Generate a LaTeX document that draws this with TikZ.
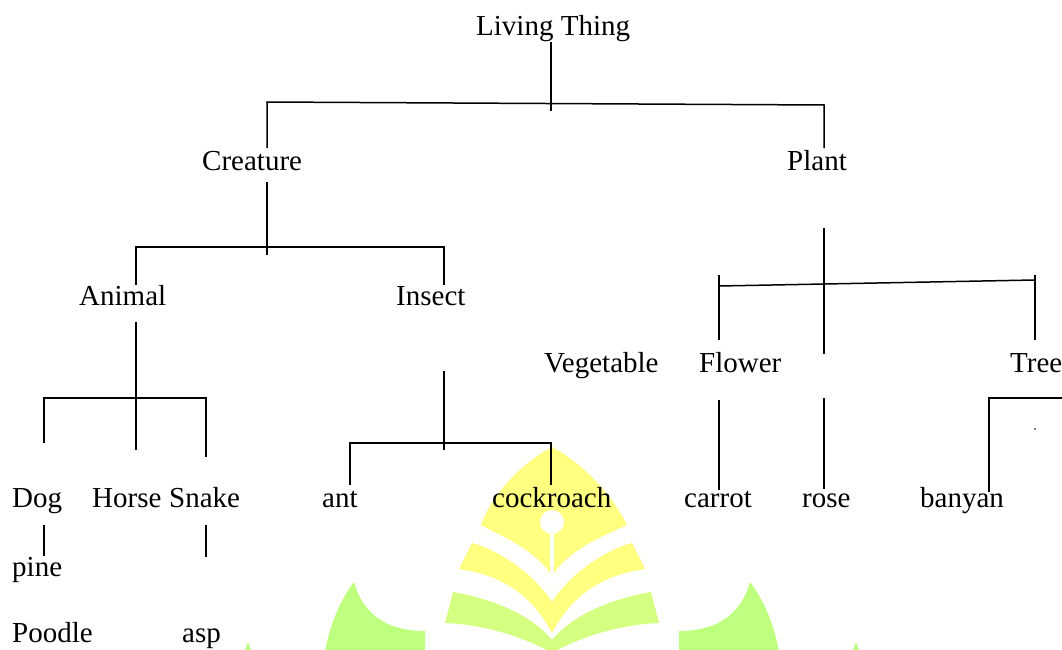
\documentclass[tikz,border=0pt]{standalone}
\usepackage{fontspec}
\setmainfont{Liberation Serif}
\usepackage{xcolor}
\definecolor{markyellow}{HTML}{FFFF80}
\definecolor{marklime}{HTML}{D5FF80}
\definecolor{markgreen}{HTML}{BFFF80}
\usetikzlibrary{calc}

\begin{document}
\begin{tikzpicture}[
    x=1pt, y=-1pt,
    every node/.style={font=\fontsize{29}{32}\selectfont},
    word/.style={anchor=base west, inner sep=0pt},
    branch/.style={draw, line width=1.5pt}
]
    \useasboundingbox (0, 0) rectangle (1062, 650);

    % Watermark
    \begin{scope}
    \clip (0, 0) rectangle (1062, 650);
    \fill[markyellow] (552, 447) .. controls (585, 465) and (612, 495) .. (627, 525)
        .. controls (600, 537) and (570, 550) .. (554, 573) -- (550, 573)
        .. controls (534, 550) and (504, 537) .. (481, 525)
        .. controls (492, 495) and (519, 465) .. (552, 447) -- cycle;
    \fill[white] (552, 522) circle[radius=12];
    \fill[white] (550, 525) rectangle (554, 573);
    \foreach \s in {1, -1} {
        \begin{scope}[shift={(552, 0)}, x=\s pt]
        \fill[markyellow] (80, 543) .. controls (62, 547) and (22, 568) .. (0, 602)
            -- (0, 633) .. controls (20, 595) and (50, 575) .. (93, 569) -- cycle;
        \fill[marklime] (99, 592) .. controls (70, 597) and (25, 610) .. (0, 640)
            -- (0, 660) -- (5, 650) .. controls (25, 640) and (60, 625) .. (107, 623) -- cycle;
        \fill[markgreen] (198, 582) .. controls (190, 610) and (170, 631) .. (127, 631)
            -- (127, 660) -- (228, 660) .. controls (225, 630) and (212, 600) .. (198, 582) -- cycle;
        \fill[markgreen] (304, 642) -- (301, 650) -- (307, 650) -- cycle;
        \end{scope}
    }
    \end{scope}

    % Words
    \node[word] (living) at (476, 36) {Living Thing};
    \node[word] (creature) at (202, 170) {Creature};
    \node[word] (plant) at (787, 170) {Plant};
    \node[word] (animal) at (79, 305) {Animal};
    \node[word] (insect) at (396, 305) {Insect};
    \node[word] (vegetable) at (544, 372) {Vegetable};
    \node[word] (flower) at (699, 372) {Flower};
    \node[word] (tree) at (1010, 372) {Tree};
    \node[word] (dog) at (12, 507) {Dog};
    \node[word] (horse) at (92, 507) {Horse};
    \node[word] (snake) at (169, 507) {Snake};
    \node[word] (ant) at (322, 507) {ant};
    \node[word] (cockroach) at (492, 507) {cockroach};
    \node[word] (carrot) at (684, 507) {carrot};
    \node[word] (rose) at (802, 507) {rose};
    \node[word] (banyan) at (920, 507) {banyan};
    \node[word] (pine) at (12, 576) {pine};
    \node[word] (poodle) at (12, 642) {Poodle};
    \node[word] (asp) at (182, 642) {asp};

    % Free line ends
    \foreach \n/\x/\y in {
        livT/551/42, livB/551/111, barA/267/102, barB/824/105, creT/267/148, plaT/824/148,
        creS/267/182, creE/267/255, barC/136/247, barD/444/247, aniT/136/285, insT/444/285,
        plaS/824/228, plaE/824/354, barE/719/286, barF/1035/280,
        flaT/719/275, floT/719/340, traT/1035/275, treT/1035/340,
        aniS/136/322, aniE/136/450, barG/44/398, barH/206/398, dogT/44/443, snaT/206/457,
        dogS/44/525, pinT/44/556, snaS/206/525, aspT/206/557,
        insS/444/371, insE/444/450, barI/350/443, barJ/551/443, antT/350/485, cocT/551/485,
        floS/719/400, carT/719/490, rosS/824/398, rosT/824/489,
        barK/989/398, barL/1062/398, banT/989/492} {
        \coordinate (\n) at (\x, \y);
    }

    % Branches
    \draw[branch] (livT) -- (livB);
    \draw[branch] (creT) -- (barA) -- (barB) -- (plaT);
    \draw[branch] (creS) -- (creE);
    \draw[branch] (aniT) -- (barC) -- (barD) -- (insT);
    \draw[branch] (plaS) -- (plaE);
    \draw[branch] (barE) -- (barF);
    \draw[branch] (flaT) -- (floT);
    \draw[branch] (traT) -- (treT);
    \draw[branch] (aniS) -- (aniE);
    \draw[branch] (dogT) -- (barG) -- (barH) -- (snaT);
    \draw[branch] (dogS) -- (pinT);
    \draw[branch] (snaS) -- (aspT);
    \draw[branch] (insS) -- (insE);
    \draw[branch] (antT) -- (barI) -- (barJ) -- (cocT);
    \draw[branch] (floS) -- (carT);
    \draw[branch] (rosS) -- (rosT);
    \draw[branch] (banT) -- (barK) -- (barL);

    % Speck under Tree
    \fill (1035, 429) circle[radius=0.8];
\end{tikzpicture}
\end{document}
